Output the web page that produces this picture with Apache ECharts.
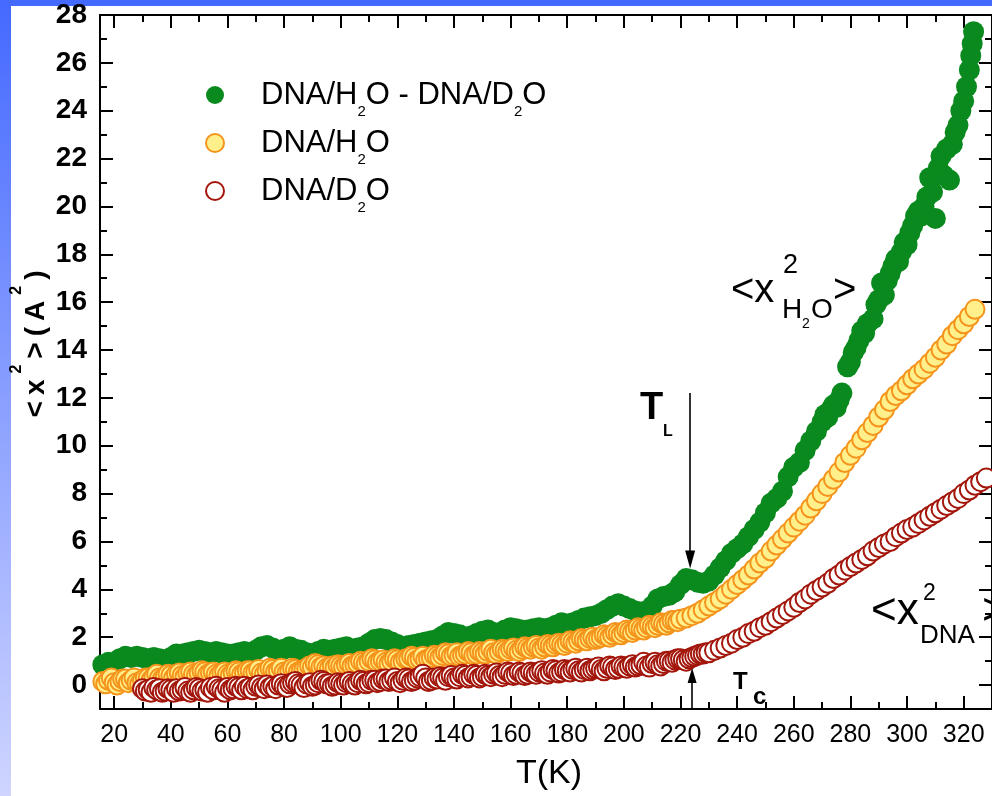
<!DOCTYPE html>
<html>
<head>
<meta charset="utf-8">
<title>Mean square displacement of hydrated DNA</title>
<script src="https://cdn.jsdelivr.net/npm/echarts@6.0.0/dist/echarts.min.js"></script>
<style>
  html, body { margin: 0; padding: 0; width: 992px; height: 796px; overflow: hidden; }
  body { background: linear-gradient(to bottom, #4469ff 0%, #cfd5ff 100%); position: relative; }
  #paper { position: absolute; left: 11px; top: 6px; right: 0; bottom: 0; background: #ffffff; }
  #chart { position: absolute; left: 0; top: 0; width: 992px; height: 796px; }
</style>
</head>
<body>
<div id="paper"></div>
<div id="chart"></div>
<script>
// ---- Temperatures (K) and mean square displacements <x^2> (A^2) ----
const tempsDiff = [16,18,20,22,24,26,28,30,32,34,36,38,40,42,44,46,48,50,52,54,56,58,60,62,64,66,68,70,72,74,76,78,80,82,84,86,88,90,92,94,96,98,100,102,104,106,108,110,112,114,116,118,120,122,124,126,128,130,132,134,136,138,140,142,144,146,148,150,152,154,156,158,160,162,164,166,168,170,172,174,176,178,180,182,184,186,188,190,192,194,196,198,200,202,204,206,208,210,212,214,216,218,220,222,224,226,228,230,232,234,236,238,240,242,244,246,248,250,252,254,256,258,260,262,264,266,268,
  270,271,272,273,274,275,276,277,279,280,281,282,283,284,285,286,288,289,290,291,292,293,294,295,296,297,298,299,300,301,302,303,304,305,306,307,308,309,310,311,312,313,314,315,316,317,318,319,320,321,322,322.5,323,323.5];
const msdDiff = [0.85,0.95,0.9,1.1,1.2,1.15,1.2,1.15,1.1,1.15,1.1,1.05,
  1.15,1.3,1.3,1.35,1.4,1.45,1.4,1.35,1.4,1.35,1.3,1.3,
  1.35,1.4,1.35,1.45,1.6,1.65,1.55,1.45,1.5,1.6,1.5,1.45,
  1.35,1.3,1.4,1.5,1.45,1.5,1.55,1.6,1.5,1.55,1.6,1.75,
  1.9,1.95,1.9,1.8,1.7,1.6,1.65,1.7,1.75,1.8,1.85,1.9,
  2.05,2.2,2.15,2.1,2.0,2.05,2.15,2.25,2.3,2.2,2.15,2.3,
  2.4,2.35,2.3,2.3,2.35,2.4,2.35,2.4,2.5,2.6,2.55,2.6,
  2.7,2.8,2.85,2.9,3.0,3.15,3.3,3.4,3.3,3.2,3.1,3.05,
  3.1,3.3,3.6,3.7,3.75,3.9,4.2,4.45,4.4,4.3,4.25,4.35,
  4.6,4.9,5.2,5.5,5.7,5.9,6.2,6.5,6.8,7.2,7.6,7.8,
  8.1,8.7,9.1,9.3,9.8,10.2,10.6,
  11.0,11.3,11.2,11.5,11.7,11.6,11.9,12.2,13.3,13.5,13.9,14.1,14.4,14.8,14.7,15.1,15.3,15.9,16.1,16.8,16.3,16.9,17.2,17.5,17.8,17.7,18.1,18.5,18.4,18.9,19.2,19.6,19.8,19.6,20.0,20.4,21.2,20.6,19.5,21.6,22.1,21.3,22.4,21.1,22.6,23.1,23.4,24.0,24.4,25.0,25.7,26.3,26.8,27.3];

const tempsH2O = [16,17,18,19,20,21,22,23,24,25,26,27,28,29,30,31,32,33,34,35,
  36,37,38,39,40,41,42,43,44,45,46,47,48,49,50,51,52,53,54,55,
  56,57,58,59,60,61,62,63,64,65,66,67,68,69,70,71,72,73,74,75,
  76,77,78,79,80,81,82,83,84,85,86,87,88,89,90,91,92,93,94,95,
  96,97,98,99,100,101,102,103,104,105,106,107,108,109,110,111,112,113,114,115,
  116,117,118,119,120,121,122,123,124,125,126,127,128,129,130,131,132,133,134,135,
  136,137,138,139,140,141,142,143,144,145,146,147,148,149,150,151,152,153,154,155,
  156,157,158,159,160,161,162,163,164,165,166,167,168,169,170,171,172,173,174,175,
  176,177,178,179,180,181,182,183,184,185,186,187,188,189,190,191,192,193,194,195,
  196,197,198,199,200,201,202,203,204,205,206,207,208,209,210,211,212,213,214,215,
  216,217,218,219,220,
  222,224,226,228,230,232,234,236,238,240,242,244,246,248,250,252,254,256,258,260,
  262,264,266,268,270,272,274,276,278,280,282,284,286,288,290,292,294,296,298,300,
  302,304,306,308,310,312,314,316,318,320,322,324];
const msdH2O = [0.15,0.05,0.2,0.3,0.1,0.0,0.15,0.25,0.25,0.1,0.2,0.3,0.1,0.05,0.2,0.3,0.3,0.2,0.35,0.45,
  0.3,0.25,0.35,0.45,0.4,0.3,0.45,0.5,0.4,0.35,0.5,0.55,0.45,0.4,0.5,0.6,0.55,0.45,0.5,0.55,
  0.45,0.4,0.5,0.55,0.45,0.4,0.5,0.6,0.55,0.45,0.5,0.6,0.6,0.5,0.55,0.65,0.5,0.45,0.6,0.7,
  0.65,0.55,0.6,0.7,0.55,0.5,0.6,0.7,0.65,0.55,0.6,0.65,0.7,0.8,0.75,0.9,0.85,0.75,0.8,0.7,
  0.7,0.8,0.75,0.85,0.8,0.75,0.85,0.9,0.8,0.85,0.9,1.0,0.95,0.9,1.0,1.1,1.05,0.95,1.0,1.05,
  0.95,0.9,1.0,1.1,1.05,0.95,1.0,1.1,1.1,1.2,1.15,1.05,1.1,1.2,1.05,1.1,1.15,1.25,1.2,1.15,
  1.25,1.35,1.3,1.2,1.25,1.35,1.2,1.25,1.3,1.4,1.35,1.25,1.3,1.4,1.35,1.3,1.4,1.5,1.35,1.3,
  1.4,1.5,1.45,1.4,1.5,1.55,1.45,1.4,1.5,1.6,1.55,1.5,1.6,1.65,1.55,1.5,1.6,1.7,1.65,1.6,
  1.7,1.75,1.7,1.65,1.75,1.85,1.8,1.75,1.85,1.95,1.9,1.85,1.95,2.0,1.9,1.95,2.0,2.1,2.05,2.0,
  2.1,2.2,2.15,2.1,2.2,2.3,2.25,2.2,2.3,2.4,2.35,2.3,2.4,2.5,2.45,2.4,2.5,2.6,2.55,2.5,
  2.6,2.7,2.7,2.65,2.75,
  2.8,2.9,3.0,3.15,3.3,3.45,3.6,3.8,4.0,4.2,4.4,4.6,4.85,5.1,5.3,5.6,5.85,6.1,6.35,6.6,
  6.85,7.1,7.4,7.7,8.0,8.3,8.6,8.9,9.3,9.6,9.9,10.25,10.55,10.85,11.2,11.5,11.85,12.1,12.3,12.55,
  12.8,13.0,13.2,13.45,13.7,14.0,14.25,14.6,14.85,15.1,15.4,15.7];

const tempsD2O = [30,31,32,33,34,35,36,37,38,39,40,41,42,43,44,45,46,47,48,49,
  50,51,52,53,54,55,56,57,58,59,60,61,62,63,64,65,66,67,68,69,
  70,71,72,73,74,75,76,77,78,79,80,81,82,83,84,85,86,87,88,89,
  90,91,92,93,94,95,96,97,98,99,100,101,102,103,104,105,106,107,108,109,
  110,111,112,113,114,115,116,117,118,119,120,121,122,123,124,125,126,127,128,129,
  130,131,132,133,134,135,136,137,138,139,140,141,142,143,144,145,146,147,148,149,
  150,151,152,153,154,155,156,157,158,159,160,161,162,163,164,165,166,167,168,169,
  170,171,172,173,174,175,176,177,178,179,180,181,182,183,184,185,186,187,188,189,
  190,191,192,193,194,195,196,197,198,199,200,201,202,203,204,205,206,207,208,209,
  210,211,212,213,214,215,216,217,218,219,220,221,222,223,224,225,226,227,228,229,230,
  232,234,236,238,240,242,244,246,248,250,252,254,256,258,260,262,264,266,268,270,
  272,274,276,278,280,282,284,286,288,290,292,294,296,298,300,302,304,306,308,310,
  312,314,316,318,320,322,324,326,328];
const msdD2O = [-0.15,-0.25,-0.2,-0.3,-0.1,-0.2,-0.15,-0.3,-0.25,-0.15,-0.2,-0.3,-0.15,-0.25,-0.2,-0.1,-0.25,-0.3,-0.2,-0.1,
  -0.15,-0.25,-0.2,-0.3,-0.1,-0.2,-0.05,-0.15,-0.2,-0.3,-0.1,-0.2,-0.15,-0.05,-0.1,-0.2,-0.05,-0.15,-0.1,-0.2,
  -0.05,0.0,-0.1,-0.15,0.0,-0.1,-0.05,-0.15,0.0,0.05,-0.05,-0.1,0.05,0.1,0.15,0.05,0.0,-0.1,0.05,0.1,
  -0.05,0.0,0.1,0.2,0.15,0.05,0.05,-0.05,0.0,0.1,0.05,0.0,0.1,0.15,0.05,0.0,0.1,0.2,0.15,0.05,
  0.1,0.2,0.2,0.1,0.15,0.25,0.25,0.15,0.2,0.3,0.15,0.1,0.2,0.3,0.25,0.15,0.2,0.3,0.35,0.45,
  0.3,0.15,0.2,0.3,0.25,0.35,0.3,0.2,0.35,0.4,0.3,0.25,0.35,0.45,0.4,0.3,0.35,0.45,0.4,0.3,
  0.35,0.45,0.4,0.35,0.45,0.5,0.4,0.35,0.45,0.55,0.5,0.4,0.45,0.55,0.5,0.4,0.45,0.55,0.5,0.45,
  0.55,0.6,0.5,0.45,0.55,0.65,0.6,0.5,0.55,0.65,0.6,0.55,0.65,0.7,0.6,0.55,0.65,0.7,0.6,0.65,
  0.7,0.75,0.65,0.6,0.7,0.8,0.75,0.65,0.7,0.8,0.75,0.7,0.8,0.85,0.75,0.8,0.85,0.95,0.8,0.75,
  0.9,0.95,0.85,0.8,0.9,1.0,1.0,0.95,1.05,1.1,1.1,1.05,1.0,1.1,1.15,1.2,1.25,1.3,1.3,1.35,1.35,
  1.45,1.55,1.65,1.75,1.9,2.0,2.15,2.25,2.4,2.5,2.65,2.8,2.95,3.1,3.25,3.45,3.6,3.8,3.95,4.1,
  4.25,4.45,4.6,4.8,4.95,5.1,5.25,5.4,5.6,5.75,5.9,6.0,6.2,6.35,6.5,6.6,6.75,6.9,7.05,7.2,
  7.35,7.5,7.65,7.8,8.0,8.15,8.35,8.5,8.65];

// Axis tick positions
const xMajor = [20,40,60,80,100,120,140,160,180,200,220,240,260,280,300,320];
const xMinor = [30,50,70,90,110,130,150,170,190,210,230,250,270,290,310,330];
const yMajor = [0,2,4,6,8,10,12,14,16,18,20,22,24,26,28];
const yMinor = [-1,1,3,5,7,9,11,13,15,17,19,21,23,25,27];

// Transition temperatures marked by arrows
const tL = 223.4;
const tC = 224.1;

const FONT = "'Liberation Sans', Arial, Helvetica, sans-serif";
const pairs = (t, v) => t.map((x, i) => [x, v[i]]);

const chart = echarts.init(document.getElementById('chart'), null, { renderer: 'canvas' });

function xAxisDef(position, ticks, len, withLabels, withLine) {
  return {
    type: 'value', position, min: 15, max: 330,
    axisLine: { show: withLine, onZero: false, lineStyle: { color: '#000', width: 2 } },
    axisTick: { show: true, inside: true, length: len, customValues: ticks, lineStyle: { color: '#000', width: 2 } },
    axisLabel: withLabels
      ? { show: true, customValues: ticks, fontSize: 25, margin: 14, color: '#000', fontFamily: FONT }
      : { show: false },
    splitLine: { show: false }
  };
}
function yAxisDef(position, ticks, len, withLabels, withLine) {
  return {
    type: 'value', position, min: -1, max: 28,
    axisLine: { show: withLine, onZero: false, lineStyle: { color: '#000', width: 2 } },
    axisTick: { show: true, inside: true, length: len, customValues: ticks, lineStyle: { color: '#000', width: 2 } },
    axisLabel: withLabels
      ? { show: true, customValues: ticks, fontSize: 28, fontWeight: 'bold', margin: 13, color: '#000', fontFamily: FONT }
      : { show: false },
    splitLine: { show: false }
  };
}

const legendText = {
  'DNA/H2O - DNA/D2O': '{sp|}{n|DNA/H}{sb|2}{n|O - DNA/D}{sb|2}{n|O}',
  'DNA/H2O': '{sp|}{n|DNA/H}{sb|2}{n|O}',
  'DNA/D2O': '{sp|}{n|DNA/D}{sb|2}{n|O}'
};

function label(x, y, text, size, weight) {
  return {
    type: 'text', x, y, silent: true,
    style: { text, fontSize: size, fontWeight: weight || 'normal', fontFamily: FONT,
             fill: '#000', align: 'left', verticalAlign: 'middle' }
  };
}

const option = {
  animation: false,
  backgroundColor: 'transparent',
  grid: { left: 100, top: 15, width: 898, height: 694 },
  xAxis: [
    xAxisDef('bottom', xMajor, 13, true, true),
    xAxisDef('bottom', xMinor, 7, false, false),
    xAxisDef('top', xMajor, 13, false, true),
    xAxisDef('top', xMinor, 7, false, false)
  ],
  yAxis: [
    yAxisDef('left', yMajor, 13, true, true),
    yAxisDef('left', yMinor, 7, false, false),
    yAxisDef('right', yMajor, 13, false, true),
    yAxisDef('right', yMinor, 7, false, false)
  ],
  legend: {
    orient: 'vertical', left: 205, top: 71, padding: 0,
    itemWidth: 18, itemHeight: 18, itemGap: 0,
    data: ['DNA/H2O - DNA/D2O', 'DNA/H2O', 'DNA/D2O'],
    formatter: name => legendText[name],
    textStyle: {
      color: '#000',
      rich: {
        sp: { width: 32 },
        n: { fontSize: 31, lineHeight: 49, verticalAlign: 'middle', fontFamily: FONT, color: '#000' },
        sb: { fontSize: 15, lineHeight: 15, padding: [33, 0, 0, 0], verticalAlign: 'middle', fontFamily: FONT, color: '#000' }
      }
    }
  },
  series: [
    {
      name: 'DNA/H2O - DNA/D2O', type: 'scatter', symbol: 'circle', symbolSize: 21,
      xAxisIndex: 0, yAxisIndex: 0,
      itemStyle: { color: '#0a8a1e', opacity: 1 },
      data: pairs(tempsDiff, msdDiff),
      markLine: {
        silent: true, animation: false,
        symbol: ['none', 'triangle'], symbolSize: [10, 18],
        label: { show: false },
        lineStyle: { color: '#000', width: 1.6, type: 'solid' },
        emphasis: { disabled: true },
        data: [
          [{ coord: [tL, 12.2] }, { coord: [tL, 5.25] }],
          [{ coord: [tC, -1] }, { coord: [tC, 0.4], symbolSize: [9, 15] }]
        ]
      }
    },
    {
      name: 'DNA/H2O', type: 'scatter', symbol: 'circle', symbolSize: 19,
      xAxisIndex: 0, yAxisIndex: 0,
      itemStyle: { color: '#fff08c', borderColor: '#f5941c', borderWidth: 2, opacity: 1 },
      data: pairs(tempsH2O, msdH2O)
    },
    {
      name: 'DNA/D2O', type: 'scatter', symbol: 'circle', symbolSize: 19,
      xAxisIndex: 0, yAxisIndex: 0,
      itemStyle: { color: '#ffffff', borderColor: '#a3160b', borderWidth: 2, opacity: 1 },
      data: pairs(tempsD2O, msdD2O)
    }
  ],
  graphic: [
    // y-axis title <x^2>(A^2), reading upward
    {
      type: 'text', x: 29.3, y: 344, rotation: Math.PI / 2, silent: true,
      style: {
        text: '{n|<}{n|x}{p|2}{n|>}{n|(}{n|A}{p|2}{n|)}',
        align: 'center', verticalAlign: 'middle', fill: '#000',
        rich: {
          n: { fontSize: 28, fontWeight: 'bold', lineHeight: 42, verticalAlign: 'bottom', fontFamily: FONT, padding: [0, 3, 0, 3] },
          p: { fontSize: 16, fontWeight: 'bold', lineHeight: 16, verticalAlign: 'top', fontFamily: FONT, padding: [0, 3, 0, 3] }
        }
      }
    },
    // x-axis title
    {
      type: 'text', x: 549, y: 774, silent: true,
      style: { text: 'T(K)', fontSize: 34, fontFamily: FONT, fill: '#000', align: 'center', verticalAlign: 'middle' }
    },
    // <x^2 H2O>
    label(731, 290.5, '<x', 40),
    label(783, 266, '2', 27),
    label(782, 310.6, 'H', 28),
    label(802, 324.5, '2', 14),
    label(811, 310.6, 'O', 28),
    label(833, 290.5, '>', 40),
    // <x^2 DNA>
    label(871, 611.8, '<x', 44),
    label(923, 594, '2', 23),
    label(920, 636, 'DNA', 26),
    label(982, 611.8, '>', 44),
    // T_L
    label(640, 409, 'T', 38, 'bold'),
    label(663, 431.7, 'L', 16, 'bold'),
    // T_c
    label(733, 682.3, 'T', 24, 'bold'),
    label(753, 697.3, 'c', 24, 'bold')
  ]
};

chart.setOption(option);
</script>
</body>
</html>
